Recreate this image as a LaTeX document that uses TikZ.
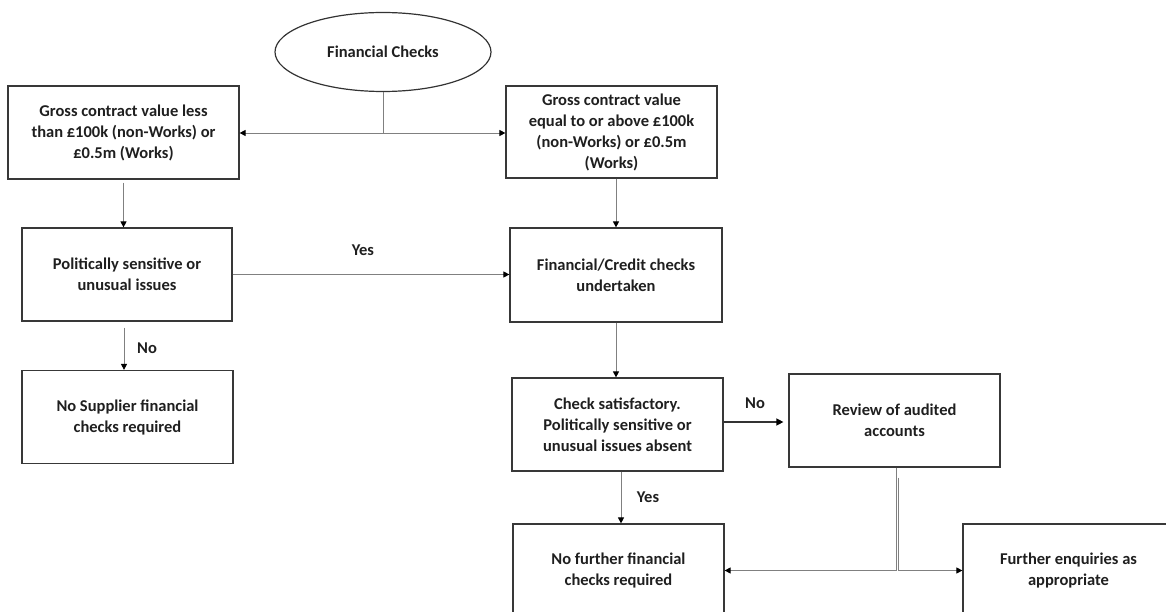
\documentclass[tikz,border=0pt]{standalone}
\usepackage{fontspec}
\setmainfont{Carlito}
\usetikzlibrary{arrows.meta,shapes.geometric}
\begin{document}
\begin{tikzpicture}[x=1pt,y=-1pt,
  lbl/.style={font=\bfseries\fontsize{16.5}{21}\selectfont, text=black!88},
  box/.style={lbl, draw=black!78, line width=1.2pt, minimum width=#1,
    minimum height=93pt, align=center, inner sep=0pt},
  box/.default=211pt,
  oval/.style={lbl, ellipse, draw=black!80, line width=1.2pt,
    minimum width=216pt, minimum height=79pt, inner sep=0pt},
  conn/.style={draw=black!50, line width=0.9pt},
  arr/.style={conn, -{Triangle[length=6pt,width=6pt,color=black]}},
  strongarr/.style={draw=black!80, line width=1.3pt,
    -{Triangle[length=7pt,width=7pt,color=black]}}
]
\useasboundingbox (0,0) rectangle (1166,612);
\clip (0,0) rectangle (1166,612);

% start
\node[oval] (fc) at (383,52) {Financial Checks};

% left branch
\node[box=231pt] (lt1) at (123.5,132.5) {Gross contract value less\\than £100k (non-Works) or\\£0.5m (Works)};
\node[box=210pt] (pol) at (127,274.5) {Politically sensitive or\\unusual issues};
\node[box] (nosup) at (127.5,417) {No Supplier financial\\checks required};

% right branch
\node[box, minimum height=92pt] (rt1) at (611.5,132) {Gross contract value\\equal to or above £100k\\(non-Works) or £0.5m\\(Works)};
\node[box=212pt, minimum height=94pt] (fin) at (616,275) {Financial/Credit checks\\undertaken};
\node[box] (check) at (617.5,424.5) {Check satisfactory.\\Politically sensitive or\\unusual issues absent};
\node[box] (review) at (894.5,420.5) {Review of audited\\accounts};
\node[box] (nofurther) at (618.5,570.5) {No further financial\\checks required};
\node[box] (further) at (1068.5,570.5) {Further enquiries as\\appropriate};

% split below the start oval
\coordinate (split) at (383,133);
\draw[conn] (fc.south) -- (split);
\draw[arr] (split) -- (split -| lt1.east);
\draw[arr] (split) -- (split -| rt1.west);

% left column
\coordinate (l1) at ([yshift=-3pt]lt1.south);
\draw[arr] (l1) -- (l1 |- pol.north);
\draw[arr] (pol.east) -- (pol.east -| fin.west);
\node[lbl] (yes1) at (363,250) {Yes};
\coordinate (l2) at ([xshift=-3pt,yshift=-6pt]pol.south);
\draw[arr] (l2) -- (l2 |- nosup.north);
\node[lbl] (no1) at (147,348) {No};

% right column
\draw[arr] (rt1.south -| fin.north) -- (fin.north);
\draw[arr] (fin.south) -- (fin.south |- check.north);
\coordinate (c0) at (check.east |- 0,422);
\coordinate (c0e) at ([xshift=-5pt]c0 -| review.west);
\draw[strongarr] (c0) -- (c0e);
\node[lbl] (no2) at (755,403) {No};
\coordinate (c1) at ([xshift=3.5pt]check.south);
\draw[arr] (c1) -- (c1 |- nofurther.north);
\node[lbl] (yes2) at (648,497) {Yes};

% outcomes of the review
\coordinate (r1) at ([xshift=1.5pt]review.south);
\coordinate (r2) at ([xshift=3.5pt,yshift=-10pt]review.south);
\draw[arr] (r1) |- (nofurther.east);
\draw[arr] (r2) |- (further.west);
\end{tikzpicture}
\end{document}
